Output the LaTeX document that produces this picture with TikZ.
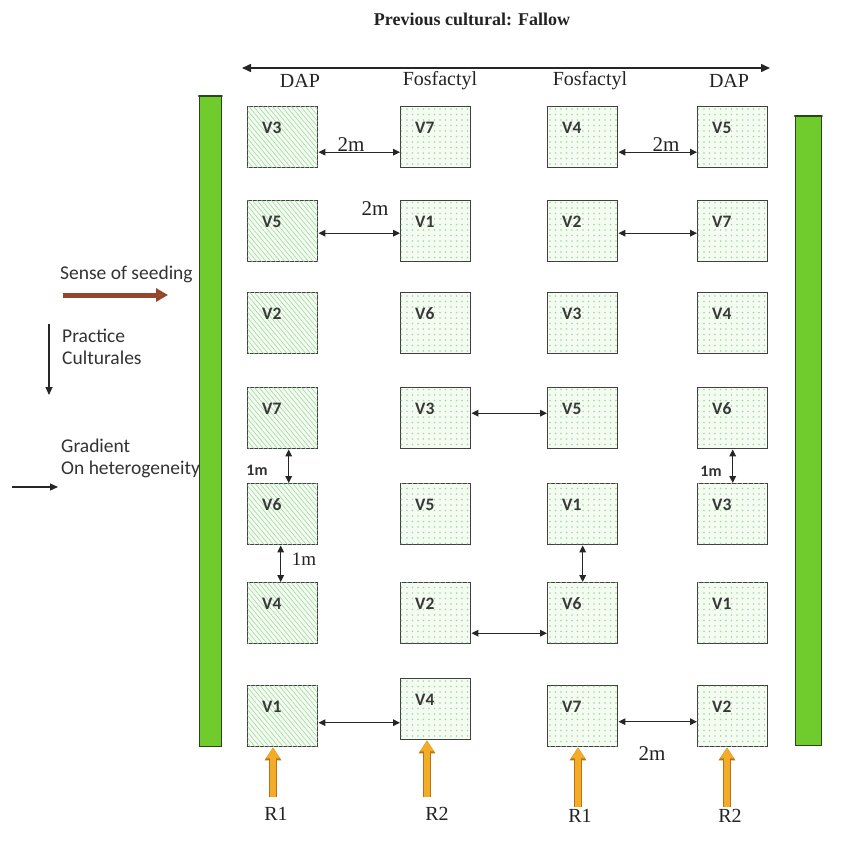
\documentclass[tikz,border=0pt]{standalone}
\usepackage{fontspec}
\setmainfont{Liberation Serif}
\newfontfamily\calib{Carlito}
\usetikzlibrary{arrows.meta,patterns.meta}

\definecolor{bargreen}{RGB}{112,204,45}
\definecolor{bardark}{RGB}{40,70,25}
\definecolor{boxfill}{RGB}{244,252,242}
\definecolor{patgreen}{RGB}{160,215,160}
\definecolor{orangeA}{RGB}{242,172,40}
\definecolor{orangeD}{RGB}{185,115,20}
\definecolor{brownR}{RGB}{150,70,45}
\definecolor{oliveH}{RGB}{110,105,55}
\definecolor{txt}{RGB}{35,35,35}

\tikzset{
  plotbase/.style={draw=black!75, line width=1.4pt, minimum width=70pt, minimum height=61pt,
    anchor=north west, inner sep=0pt, fill=boxfill},
  wavybox/.style={plotbase, postaction={pattern={Lines[angle=-50,distance=3.6pt,line width=0.6pt]}, pattern color=patgreen}},
  dotbox/.style={plotbase, postaction={pattern={Dots[distance=5.5pt,radius=0.8pt]}, pattern color=patgreen}},
  vlab/.style={font=\calib\bfseries\fontsize{17.5}{17.5}\selectfont, text=black!78, anchor=base west, inner sep=0pt},
  dimarrow/.style={{Triangle[length=7pt,width=6.5pt]}-{Triangle[length=7pt,width=6.5pt]}, line width=1.4pt, draw=black!85},
  serlab/.style={font=\fontsize{20}{20}\selectfont, text=txt, inner sep=0pt},
  sanlab/.style={font=\calib\bfseries\fontsize{16}{16}\selectfont, text=black!80, inner sep=0pt},
  sidetext/.style={font=\calib\fontsize{19.5}{19.5}\selectfont, text=black!80, anchor=base west, inner sep=0pt},
  greenbar/.style={fill=bargreen, draw=bardark, line width=0.8pt, anchor=north west, inner sep=0pt},
  orarrow/.style={line width=6pt, draw=orangeA, -{Triangle[length=11pt,width=13pt]},
    preaction={draw=orangeD, line width=8pt, -{Triangle[length=13pt,width=16pt]}}},
}

\newcommand\pbox[5]{%
  \node[#5] (#1) at (#2,#3) {};
  \node[vlab] (#1t) at ([xshift=15pt,yshift=-27pt]#1.north west) {#4};}

\begin{document}
\begin{tikzpicture}[x=1pt,y=-1pt]
\useasboundingbox (0,0) rectangle (860,846);
\fill[white] (0,0) rectangle (860,846);

% title and header
\node[font=\bfseries\fontsize{18}{18}\selectfont, text=txt] (title) at (472,19) {Previous cultural: Fallow};
\coordinate (tl) at (242,68);
\coordinate (tr) at (770,68);
\draw[{Triangle[length=9pt,width=8pt]}-{Triangle[length=9pt,width=8pt]}, line width=1.5pt, draw=black!85] (tl) -- (tr);
\node[serlab] (h1) at (300,81) {DAP};
\node[serlab] (h2) at (440,81) {Fosfactyl};
\node[serlab] (h3) at (590,81) {Fosfactyl};
\node[serlab] (h4) at (729,81) {DAP};

% left legend
\node[sidetext] (sense) at (60,279) {Sense of seeding};
\coordinate (s1) at (63,295);
\coordinate (s2) at (168,295);
\draw[line width=5pt, draw=brownR, -{Triangle[length=12pt,width=13pt,fill=oliveH]}] (s1) -- (s2);

\coordinate (p1) at (49,324);
\coordinate (p2) at (49,395);
\draw[line width=1.2pt, draw=black!85, -{Triangle[length=8pt,width=7pt]}] (p1) -- (p2);
\node[sidetext] (prac) at (62,342) {Practice};
\node[sidetext] (cult) at (62,364) {Culturales};

\node[sidetext] (grad) at (61,452) {Gradient};
\node[sidetext] (hetero) at (61,474) {On heterogeneity};
\coordinate (g1) at (12,487);
\coordinate (g2) at (58,487);
\draw[line width=1.2pt, draw=black!85, -{Triangle[length=8pt,width=7pt]}] (g1) -- (g2);

% green bars
\node[greenbar, minimum width=22pt, minimum height=650pt] (barL) at (199,96) {};
\draw[bardark, line width=2.5pt, line cap=round] (barL.north west) -- (barL.north east);
\node[greenbar, minimum width=26pt, minimum height=629pt] (barR) at (795,116) {};
\draw[bardark, line width=2.5pt, line cap=round] (barR.north west) -- (barR.north east);

% plots
\pbox{a11}{247}{106}{V3}{wavybox}
\pbox{a12}{400}{106}{V7}{dotbox}
\pbox{a13}{547}{106}{V4}{dotbox}
\pbox{a14}{697}{106}{V5}{dotbox}

\pbox{a21}{247}{200}{V5}{wavybox}
\pbox{a22}{400}{200}{V1}{dotbox}
\pbox{a23}{547}{200}{V2}{dotbox}
\pbox{a24}{697}{200}{V7}{dotbox}

\pbox{a31}{247}{292}{V2}{wavybox}
\pbox{a32}{400}{292}{V6}{dotbox}
\pbox{a33}{547}{292}{V3}{dotbox}
\pbox{a34}{697}{292}{V4}{dotbox}

\pbox{a41}{247}{387}{V7}{wavybox}
\pbox{a42}{400}{387}{V3}{dotbox}
\pbox{a43}{547}{387}{V5}{dotbox}
\pbox{a44}{697}{387}{V6}{dotbox}

\pbox{a51}{247}{483}{V6}{wavybox}
\pbox{a52}{400}{483}{V5}{dotbox}
\pbox{a53}{547}{483}{V1}{dotbox}
\pbox{a54}{697}{483}{V3}{dotbox}

\pbox{a61}{247}{582}{V4}{wavybox}
\pbox{a62}{400}{582}{V2}{dotbox}
\pbox{a63}{547}{582}{V6}{dotbox}
\pbox{a64}{697}{582}{V1}{dotbox}

\pbox{a71}{247}{685}{V1}{wavybox}
\pbox{a72}{400}{678}{V4}{dotbox}
\pbox{a73}{547}{685}{V7}{dotbox}
\pbox{a74}{697}{685}{V2}{dotbox}

% distance arrows
\draw[dimarrow] ([yshift=-15pt]a11.east) -- ([yshift=-15pt]a12.west);
\draw[dimarrow] ([yshift=-15pt]a13.east) -- ([yshift=-15pt]a14.west);
\draw[dimarrow] ([yshift=-2pt]a21.east) -- ([yshift=-2pt]a22.west);
\draw[dimarrow] ([yshift=-2pt]a23.east) -- ([yshift=-2pt]a24.west);
\draw[dimarrow] ([yshift=5pt]a42.east) -- ([yshift=5pt]a43.west);
\draw[dimarrow] ([yshift=-20pt]a62.east) -- ([yshift=-20pt]a63.west);
\draw[dimarrow] ([yshift=-6.5pt]a71.east) -- ([yshift=-6.5pt]a71.east -| a72.west);
\draw[dimarrow] ([yshift=-5.5pt]a73.east) -- ([yshift=-5.5pt]a74.west);
\draw[dimarrow] ([xshift=6pt]a41.south) -- ([xshift=6pt]a51.north);
\draw[dimarrow] ([xshift=-2pt]a51.south) -- ([xshift=-2pt]a61.north);
\draw[dimarrow] (a44.south) -- (a54.north);
\draw[dimarrow] (a53.south) -- (a63.north);

% distance labels
\node[serlab, font=\fontsize{21}{21}\selectfont] (m1) at (351,145) {2m};
\node[serlab, font=\fontsize{21}{21}\selectfont] (m2) at (375,209) {2m};
\node[serlab, font=\fontsize{21}{21}\selectfont] (m3) at (666,145) {2m};
\node[serlab, font=\fontsize{21}{21}\selectfont] (m4) at (652,754) {2m};
\node[sanlab] (m5) at (257,470) {1m};
\node[serlab, font=\fontsize{19}{19}\selectfont] (m6) at (304,559) {1m};
\node[sanlab] (m7) at (711,471) {1m};

% replication arrows
\coordinate (o1) at (273,797);
\coordinate (o2) at (427,797);
\coordinate (o3) at (578,807);
\coordinate (o4) at (727,807);
\draw[orarrow] (o1) -- (o1 |- a71.south);
\draw[orarrow] (o2) -- (o2 |- a72.south);
\draw[orarrow] (o3) -- (o3 |- a73.south);
\draw[orarrow] (o4) -- (o4 |- a74.south);
\node[serlab] (r1) at (276,814) {R1};
\node[serlab] (r2) at (437,814) {R2};
\node[serlab] (r3) at (580,816) {R1};
\node[serlab] (r4) at (730,816) {R2};
\end{tikzpicture}
\end{document}
